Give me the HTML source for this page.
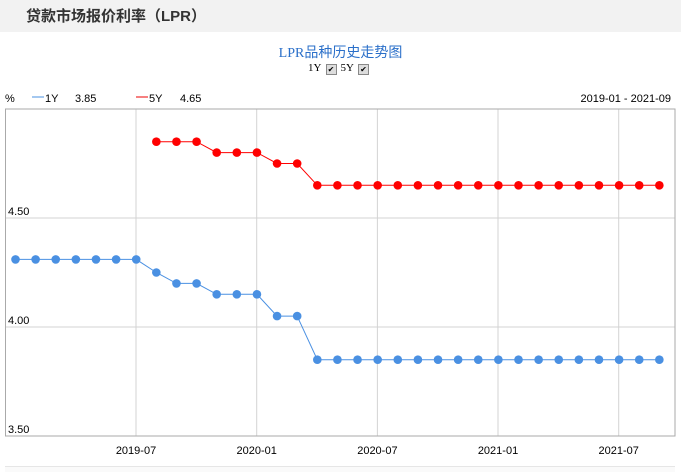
<!DOCTYPE html>
<html><head><meta charset="utf-8"><style>
body{margin:0;width:681px;height:471px;background:#fff;font-family:"Liberation Sans","Noto Sans CJK SC",sans-serif;overflow:hidden;position:relative}
.hdr{position:absolute;left:0;top:0;width:681px;height:32px;background:#f2f2f2}
.hdr span{position:absolute;left:26px;top:5px;font-size:15px;font-weight:bold;color:#333}
.t{position:absolute;width:681px;text-align:center;top:42px;font-size:14px;color:#2a6fc9;font-family:"Liberation Serif","Noto Sans CJK SC",serif}
.cb{position:absolute;top:62px;left:0;width:681px;text-align:center;font-size:11px;font-family:"Liberation Serif",serif;color:#000}
.cb i{display:inline-block;width:9px;height:9px;border:1px solid #888;background:#ddd;vertical-align:-1px;margin:0 4px;font-style:normal;font-size:8px;line-height:9px}
.bot{position:absolute;left:5px;top:466px;width:670px;height:5px;border-top:1px solid #e6e6e6;background:#fafafa}
</style></head><body>
<div class="hdr"><span>贷款市场报价利率（LPR）</span></div>
<div class="t">LPR品种历史走势图</div>
<div class="cb">1Y<i>✔</i>5Y<i>✔</i></div>
<svg id="s" width="681" height="471" style="position:absolute;left:0;top:0" font-family="Liberation Sans,sans-serif" font-size="11">
<text x="5" y="102" fill="#000">%</text>
<line x1="32" y1="97" x2="44" y2="97" stroke="#4a90e2"/><text x="45" y="102">1Y</text><text x="75" y="102">3.85</text>
<line x1="136" y1="97" x2="148" y2="97" stroke="#e00"/><text x="149" y="102">5Y</text><text x="180" y="102">4.65</text>
<text x="671" y="102" text-anchor="end">2019-01 - 2021-09</text>
<g id="g"></g>
</svg>
<div class="bot"></div>
<script>
var g=document.getElementById('g'),h='';
var L=5.5,T=109,R=675,B=436;
function X(i){return 15.5+i*20.12}
function Y(v){return 327-(v-4)*218}
[[136,'2019-07'],[256.7,'2020-01'],[377.4,'2020-07'],[498,'2021-01'],[618.7,'2021-07']].forEach(function(a){
h+='<line x1="'+a[0]+'" y1="'+T+'" x2="'+a[0]+'" y2="'+B+'" stroke="#d3d3d3"/>';
h+='<text x="'+a[0]+'" y="454" text-anchor="middle">'+a[1]+'</text>';});
[[4.5,'4.50'],[4,'4.00'],[3.5,'3.50']].forEach(function(a){var y=Y(a[0]);
if(a[0]>3.5)h+='<line x1="'+L+'" y1="'+y+'" x2="'+R+'" y2="'+y+'" stroke="#d3d3d3"/>';
h+='<text x="8" y="'+(y-3)+'">'+a[1]+'</text>';});
h+='<rect x="'+L+'" y="'+T+'" width="'+(R-L)+'" height="'+(B-T)+'" fill="none" stroke="#aaa"/>';
var a=[4.31,4.31,4.31,4.31,4.31,4.31,4.31,4.25,4.2,4.2,4.15,4.15,4.15,4.05,4.05];while(a.length<33)a.push(3.85);
var b=[null,null,null,null,null,null,null,4.85,4.85,4.85,4.8,4.8,4.8,4.75,4.75];while(b.length<33)b.push(4.65);
function ser(d,c){var p='',cs='';d.forEach(function(v,i){if(v==null)return;p+=(p?'L':'M')+X(i)+','+Y(v);cs+='<circle cx="'+X(i)+'" cy="'+Y(v)+'" r="4.3" fill="'+c+'"/>';});
return '<path d="'+p+'" fill="none" stroke="'+c+'" stroke-width="1"/>'+cs;}
h+=ser(a,'#4a90e2')+ser(b,'#f00');
g.innerHTML=h;
</script>
</body></html>
